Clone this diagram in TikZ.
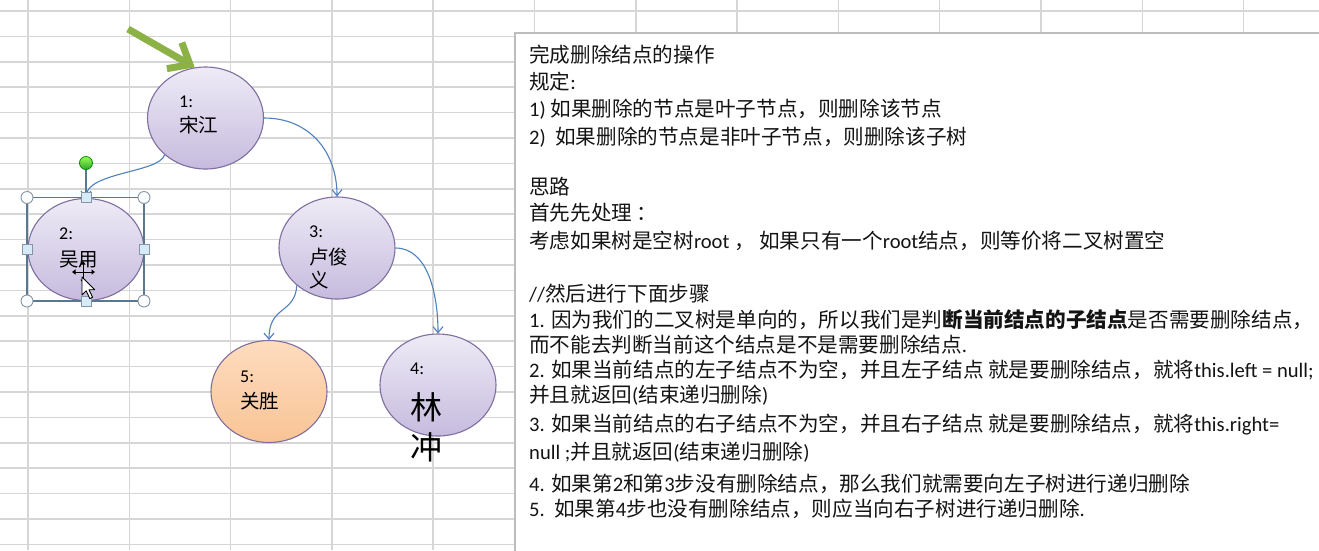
\documentclass[tikz,border=0pt]{standalone}
\usepackage{fontspec}
\setmainfont{Noto Sans CJK SC}
\newfontfamily\latfont{Carlito}
\newcommand\lat[1]{{\latfont #1}}
\usetikzlibrary{shapes.geometric,arrows.meta}
\definecolor{gridc}{HTML}{D6D6D6}
\definecolor{boxc}{HTML}{BDBDBD}
\definecolor{ellc}{HTML}{7F6E9F}
\definecolor{lavtop}{HTML}{EEEBF6}
\definecolor{lavbot}{HTML}{C6BBDE}
\definecolor{ortop}{HTML}{FDDCBE}
\definecolor{orbot}{HTML}{F9C496}
\definecolor{arrc}{HTML}{4F81BD}
\definecolor{greenc}{HTML}{8CB146}
\definecolor{selc}{HTML}{5A7790}
\definecolor{handc}{HTML}{8696A4}
\definecolor{sqc}{HTML}{D6EBF7}
\begin{document}
\begin{tikzpicture}[x=1pt,y=-1pt,
  gridline/.style={draw=gridc,line width=1.5pt},
  treenode/.style={ellipse,draw=ellc,line width=1.1pt,minimum width=116pt,minimum height=102pt,inner sep=0pt,top color=lavtop,bottom color=lavbot},
  orangenode/.style={treenode,top color=ortop,bottom color=orbot},
  edge/.style={draw=arrc,line width=1.1pt,-{Straight Barb[length=6pt,width=10pt]}},
  txt/.style={anchor=base west,inner sep=0pt,font=\fontsize{20.6}{24}\selectfont,text=black!92},
  numlab/.style={anchor=west,inner sep=0pt,font=\latfont\fontsize{18}{20}\selectfont},
  cjklab/.style={anchor=west,inner sep=0pt,font=\fontsize{19.5}{22}\selectfont},
  biglab/.style={anchor=west,inner sep=0pt,font=\fontsize{32}{36}\selectfont},
  corner/.style={circle,draw=handc,fill=white!90!sqc,line width=0.9pt,minimum size=12pt,inner sep=0pt},
  sq/.style={rectangle,draw=handc,fill=sqc,line width=0.9pt,minimum size=10pt,inner sep=0pt}]
\useasboundingbox (0,0) rectangle (1319,550);
\fill[white] (0,0) rectangle (1319,550);
% grid
\foreach \i in {0,...,12} \draw[gridline] ({28+101.3*\i},0) -- ({28+101.3*\i},550);
\foreach \k in {0,...,21} \draw[gridline] (0,{11+25.4*\k}) -- (1319,{11+25.4*\k});
% text box
\draw[boxc,line width=1.5pt,fill=white] (515,33) rectangle (1330,560);
% text lines
\node[txt] (l1) at (529,62.8) {完成删除结点的操作};
\node[txt] (l2) at (529,89.5) {规定\lat{:}};
\node[txt] (l3) at (529,116.1) {\lat{1) }如果删除的节点是叶子节点，则删除该节点};
\node[txt] (l4) at (529,144.5) {\lat{2)\ \ }如果删除的节点是非叶子节点，则删除该子树};
\node[txt] (l5) at (529,194.5) {思路};
\node[txt] (l6) at (529,220.5) {首先先处理 ：};
\node[txt] (l7) at (529,248.5) {考虑如果树是空树\lat{root} ， 如果只有一个\lat{root}结点，则等价将二叉树置空};
\node[txt] (l8) at (529,301.1) {\lat{//}然后进行下面步骤};
\node[txt] (l9) at (529,327.8) {\lat{1. }因为我们的二叉树是单向的，所以我们是判\textbf{断当前结点的子结点}是否需要删除结点，};
\node[txt] (l10) at (529,352.8) {而不能去判断当前这个结点是不是需要删除结点\lat{.}};
\node[txt] (l11) at (529,377.8) {\lat{2. }如果当前结点的左子结点不为空，并且左子结点 就是要删除结点，就将\lat{this.left = null;}};
\node[txt] (l12) at (529,402.8) {并且就返回\lat{(}结束递归删除\lat{)}};
\node[txt] (l13) at (529,431.1) {\lat{3. }如果当前结点的右子结点不为空，并且右子结点 就是要删除结点，就将\lat{this.right=}};
\node[txt] (l14) at (529,459.5) {\lat{null ;}并且就返回\lat{(}结束递归删除\lat{)}};
\node[txt] (l15) at (529,491.1) {\lat{4. }如果第\lat{2}和第\lat{3}步没有删除结点，那么我们就需要向左子树进行递归删除};
\node[txt] (l16) at (529,516.1) {\lat{5.\ \ }如果第\lat{4}步也没有删除结点，则应当向右子树进行递归删除\lat{.}};
% tree nodes
\node[treenode] (n1) at (205.5,118) {};
\node[treenode] (n2) at (86,249.5) {};
\node[treenode] (n3) at (337,248) {};
\node[orangenode] (n5) at (269,391.5) {};
\node[treenode] (n4) at (438,385) {};
% connectors
\draw[edge] (n1.222) .. controls +(-5,18) and +(0,-26) .. (n2.north);
\draw[edge] (n1.east) .. controls +(45,0) and +(0,-45) .. (n3.north);
\draw[edge] (n3.223) .. controls +(-2,29) and +(0,-35) .. (n5.north);
\draw[edge] (n3.east) .. controls +(32,0) and +(0,-40) .. (n4.north);
% labels
\node[numlab] (t1a) at (179,102) {1:};
\node[cjklab] (t1b) at (179,125.5) {宋江};
\node[numlab] (t2a) at (59,234) {2:};
\node[cjklab] (t2b) at (59,259.5) {吴用};
\node[numlab] (t3a) at (309,231.5) {3:};
\node[cjklab] (t3b) at (309,257) {卢俊};
\node[cjklab] (t3c) at (309,280.5) {义};
\node[numlab] (t5a) at (240,377) {5:};
\node[cjklab] (t5b) at (240,401.5) {关胜};
\node[numlab] (t4a) at (410,369) {4:};
\node[biglab] (t4b) at (410,407) {林};
\node[biglab] (t4c) at (410,447) {冲};
% selection frame around node 2
\draw[selc,line width=1.2pt] (27,197.5) rectangle (144,301);
\node[circle,draw=black!45!green,line width=0.8pt,minimum size=13pt,inner sep=0pt,top color=green!45!lime!70,bottom color=green!55!black!80] (rot) at (86,163) {};
\draw[selc,line width=1.2pt] (rot.south) -- (86,197.5);
\node[corner] (c1) at (27,197.5) {};
\node[corner] (c2) at (144,197.5) {};
\node[corner] (c3) at (27,301) {};
\node[corner] (c4) at (144,301) {};
\node[sq] (s1) at (86,197.5) {};
\node[sq] (s2) at (86,301) {};
\node[sq] (s3) at (27,249) {};
\node[sq] (s4) at (144,249) {};
% green pointer arrow
\coordinate (g0) at (128,29);
\draw[greenc,line width=7pt,-{Straight Barb[length=18pt,width=30pt]}] (g0) -- (n1.102);
% mouse cursor
\draw[black,line width=1pt,{Triangle[length=3.5pt,width=5pt]}-{Triangle[length=3.5pt,width=5pt]}] (72,272) -- (95,272);
\draw[black,line width=1pt,{Triangle[length=3.5pt,width=5pt]}-{Triangle[length=3.5pt,width=5pt]}] (83,261) -- (83,283);
\draw[black,line width=0.9pt,fill=white,line join=round] (82,277) -- ++(0,18) -- ++(4.2,-4.2) -- ++(3.6,7.8) -- ++(2.8,-1.3) -- ++(-3.6,-7.6) -- ++(5.8,0) -- cycle;
\end{tikzpicture}
\end{document}
